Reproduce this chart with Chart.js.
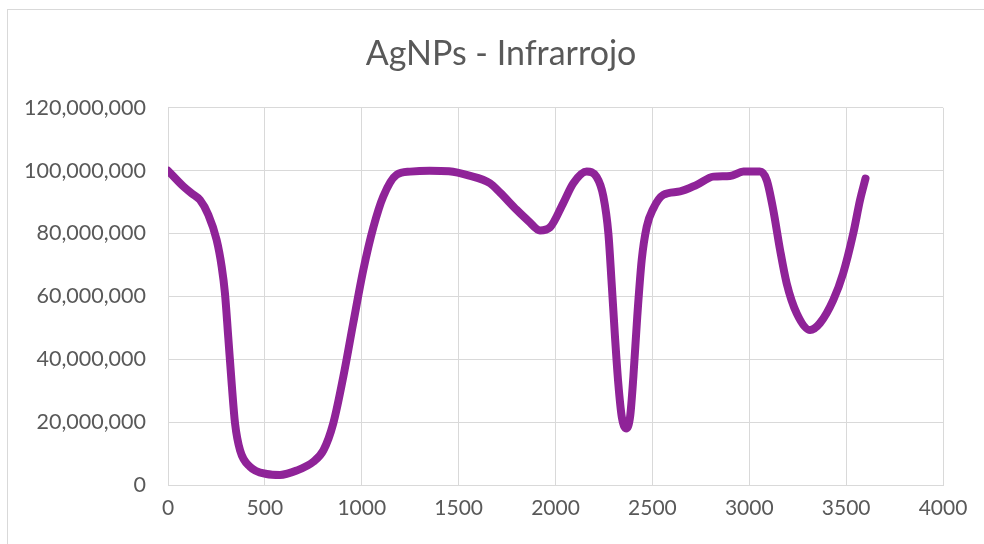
<!DOCTYPE html>
<html>
<head>
<meta charset="utf-8">
<script src="https://cdn.jsdelivr.net/npm/chart.js@4/dist/chart.umd.min.js"></script>
<style>
  html, body { margin: 0; padding: 0; background: #fff; overflow: hidden; }
  #wrap { position: relative; width: 984px; height: 544px; }
  #frame { position: absolute; left: 7px; top: 9px; width: 1010px; height: 620px; border: 1px solid #d9d9d9; box-sizing: border-box; }
  canvas { position: absolute; left: 0; top: 0; }
</style>
</head>
<body>
<div id="wrap">
  <div id="frame"></div>
  <canvas id="c" width="984" height="544"></canvas>
</div>
<script>
const chartTitle = "AgNPs - Infrarrojo";
const wavenumber = [0, 79, 122, 165, 208, 251, 277, 294, 311, 329, 346, 372, 423, 509, 578, 664, 750, 802, 853, 905, 956, 1008, 1060, 1111, 1180, 1250, 1350, 1450, 1550, 1662, 1714, 1800, 1860, 1920, 1972, 2040, 2092, 2161, 2212, 2247, 2273, 2290, 2307, 2324, 2342, 2364, 2385, 2402, 2422, 2445, 2471, 2505, 2556, 2643, 2729, 2815, 2901, 2970, 3055, 3090, 3124, 3159, 3193, 3245, 3314, 3365, 3434, 3485, 3537, 3572, 3600];
const intensity = [100000000, 95000000, 92800000, 90700000, 86000000, 78000000, 69500000, 61000000, 47000000, 32000000, 19600000, 11000000, 5800000, 3500000, 3200000, 4600000, 7400000, 11000000, 19600000, 34500000, 51500000, 68400000, 82000000, 91800000, 98700000, 99700000, 100000000, 99800000, 98500000, 96000000, 93000000, 87500000, 84000000, 81000000, 82000000, 89700000, 96000000, 99700000, 98000000, 91800000, 80000000, 64000000, 47200000, 32400000, 21700000, 18000000, 21700000, 34500000, 53600000, 71600000, 82200000, 88000000, 92300000, 93400000, 95500000, 98100000, 98300000, 99700000, 99700000, 97000000, 87500000, 74800000, 64200000, 54600000, 49300000, 51500000, 58900000, 67400000, 80100000, 90700000, 97500000];
const xTicks = [0, 500, 1000, 1500, 2000, 2500, 3000, 3500, 4000];
const yTicks = [0, 20000000, 40000000, 60000000, 80000000, 100000000, 120000000];

const points = wavenumber.map((x, i) => ({ x: x, y: intensity[i] }));
const gridColor = '#d9d9d9';
const textColor = '#595959';
const fontFamily = 'Lato, "Open Sans", sans-serif';

// Centre the title over the whole (Excel-style) chart frame rather than the padded layout box
const titleCentre = {
  id: 'titleCentre',
  afterLayout(chart) {
    const t = chart.titleBlock;
    if (t) { t.left = 7; t.right = 995; t.width = 988; }
  }
};

new Chart(document.getElementById('c'), {
  type: 'line',
  plugins: [titleCentre],
  data: {
    datasets: [{
      data: points,
      borderColor: '#8f2398',
      borderWidth: 8,
      borderCapStyle: 'round',
      borderJoinStyle: 'round',
      pointRadius: 0,
      fill: false,
      cubicInterpolationMode: 'monotone'
    }]
  },
  options: {
    responsive: false,
    animation: false,
    layout: { padding: { left: 0, right: 41, top: 0, bottom: 0 } },
    plugins: {
      legend: { display: false },
      tooltip: { enabled: false },
      title: {
        display: true,
        text: chartTitle,
        color: textColor,
        font: { family: fontFamily, size: 34, weight: 'normal' },
        padding: { top: 34, bottom: 33 }
      }
    },
    scales: {
      x: {
        type: 'linear',
        min: xTicks[0],
        max: xTicks[xTicks.length - 1],
        afterBuildTicks: (axis) => { axis.ticks = xTicks.map(v => ({ value: v })); },
        afterFit: (axis) => { axis.height = 59; },
        grid: { color: gridColor, lineWidth: 1, drawTicks: false },
        border: { color: gridColor, width: 1 },
        ticks: { color: textColor, font: { family: fontFamily, size: 21 }, padding: 11, maxRotation: 0,
                 callback: (v) => String(v) }
      },
      y: {
        type: 'linear',
        min: yTicks[0],
        max: yTicks[yTicks.length - 1],
        afterBuildTicks: (axis) => { axis.ticks = yTicks.map(v => ({ value: v })); },
        afterFit: (axis) => { axis.width = 168; },
        grid: { color: gridColor, lineWidth: 1, drawTicks: false },
        border: { color: gridColor, width: 1 },
        ticks: {
          color: textColor,
          font: { family: fontFamily, size: 21.5 },
          padding: 22,
          callback: (v) => Number(v).toLocaleString('en-US')
        }
      }
    }
  }
});
</script>
</body>
</html>
